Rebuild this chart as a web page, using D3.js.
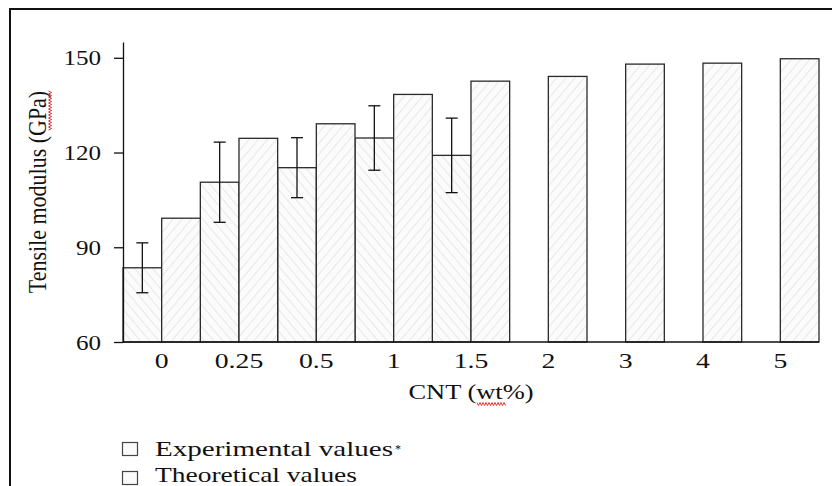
<!DOCTYPE html>
<html>
<head>
<meta charset="utf-8">
<script src="https://cdn.jsdelivr.net/npm/d3@7"></script>
<style>
  body { margin: 0; background: #fff; }
  text { font-family: "Liberation Serif", "Times New Roman", serif; fill: #111; }
</style>
</head>
<body>
<script>
// Tensile modulus vs CNT content: experimental (with error bars) and theoretical bars

const width = 832;
const height = 486;

const categories = ["0", "0.25", "0.5", "1", "1.5", "2", "3", "4", "5"];
const experimental = [83.5, 110.6, 115.2, 124.6, 119.1, null, null, null, null];
const expError = [7.9, 12.7, 9.5, 10.2, 11.8, null, null, null, null];
const theoretical = [99.2, 124.5, 129.1, 138.4, 142.6, 144.1, 148.0, 148.3, 149.7];
const yTicks = [60, 90, 120, 150];
const legendLabels = ["Experimental values", "Theoretical values"];

const margin = { left: 123, right: 13, top: 42, bottom: 144 };

const svg = d3.select("body")
    .append("svg")
    .attr("width", width)
    .attr("height", height);

const defs = svg.append("defs");

// light hatch fills: "\\" for experimental, "//" for theoretical
function hatch(id, angle) {
    const p = defs.append("pattern")
        .attr("id", id)
        .attr("patternUnits", "userSpaceOnUse")
        .attr("width", 7)
        .attr("height", 7)
        .attr("patternTransform", `rotate(${angle})`);
    p.append("rect").attr("width", 7).attr("height", 7).attr("fill", "#fbfbfb");
    p.append("line")
        .attr("x1", 0).attr("y1", 0).attr("x2", 0).attr("y2", 7)
        .attr("stroke", "#dcdcdc")
        .attr("stroke-width", 1.2);
}
hatch("hatchExp", -40);
hatch("hatchTheo", 40);

// outer frame (only top and left edges visible)
svg.append("path")
    .attr("d", `M10,${height} L10,9 L${width},9`)
    .attr("fill", "none")
    .attr("stroke", "#111")
    .attr("stroke-width", 2);

const x = d3.scaleBand()
    .domain(categories)
    .range([margin.left, width - margin.right])
    .padding(0);

const sub = d3.scaleBand()
    .domain(["exp", "theo"])
    .range([0, x.bandwidth()]);

const y = d3.scaleLinear()
    .domain([60, 155])
    .range([height - margin.bottom, margin.top]);

// stretch text horizontally like the reference
function stretch(sel, f) {
    sel.each(function () {
        const len = this.getComputedTextLength();
        d3.select(this).attr("textLength", len * f).attr("lengthAdjust", "spacingAndGlyphs");
    });
}

// bars
const rows = categories.map((c, i) => ({
    cat: c, exp: experimental[i], err: expError[i], theo: theoretical[i]
}));

svg.append("g")
    .selectAll("rect")
    .data(rows.filter(d => d.exp != null))
    .join("rect")
    .attr("x", d => x(d.cat) + sub("exp"))
    .attr("y", d => y(d.exp))
    .attr("width", sub.bandwidth())
    .attr("height", d => y(60) - y(d.exp))
    .attr("fill", "url(#hatchExp)")
    .attr("stroke", "#2a2a2a")
    .attr("stroke-width", 1.3);

svg.append("g")
    .selectAll("rect")
    .data(rows)
    .join("rect")
    .attr("x", d => x(d.cat) + sub("theo"))
    .attr("y", d => y(d.theo))
    .attr("width", sub.bandwidth())
    .attr("height", d => y(60) - y(d.theo))
    .attr("fill", "url(#hatchTheo)")
    .attr("stroke", "#2a2a2a")
    .attr("stroke-width", 1.3);

// error bars
const eb = svg.append("g")
    .selectAll("g")
    .data(rows.filter(d => d.err != null))
    .join("g")
    .attr("stroke", "#111")
    .attr("stroke-width", 1.3);
const cx = d => x(d.cat) + sub("exp") + sub.bandwidth() / 2;
eb.append("line")
    .attr("x1", cx).attr("x2", cx)
    .attr("y1", d => y(d.exp + d.err)).attr("y2", d => y(d.exp - d.err));
eb.append("line")
    .attr("x1", d => cx(d) - 6).attr("x2", d => cx(d) + 6)
    .attr("y1", d => y(d.exp + d.err)).attr("y2", d => y(d.exp + d.err));
eb.append("line")
    .attr("x1", d => cx(d) - 6).attr("x2", d => cx(d) + 6)
    .attr("y1", d => y(d.exp - d.err)).attr("y2", d => y(d.exp - d.err));

// y axis
const yAxis = svg.append("g")
    .attr("transform", `translate(${margin.left},0)`)
    .call(d3.axisLeft(y).tickValues(yTicks).tickSize(9).tickPadding(13).tickSizeOuter(0));
yAxis.select(".domain").attr("stroke", "#111").attr("stroke-width", 1.3);
yAxis.selectAll(".tick line").attr("stroke", "#111").attr("stroke-width", 1.3);
yAxis.selectAll(".tick text")
    .style("font-family", "Liberation Serif, serif")
    .style("font-size", "22px")
    .attr("fill", "#111")
    .call(stretch, 1.14);

// x axis (line only, labels centered on bands)
svg.append("line")
    .attr("x1", margin.left).attr("x2", width - margin.right)
    .attr("y1", y(60)).attr("y2", y(60))
    .attr("stroke", "#111").attr("stroke-width", 1.3);

svg.append("g")
    .selectAll("text")
    .data(categories)
    .join("text")
    .attr("x", d => x(d) + x.bandwidth() / 2)
    .attr("y", 368)
    .attr("text-anchor", "middle")
    .style("font-size", "22px")
    .text(d => d)
    .call(stretch, 1.26);

// axis titles
svg.append("text")
    .attr("x", (margin.left + width - margin.right) / 2)
    .attr("y", 399)
    .attr("text-anchor", "middle")
    .style("font-size", "21px")
    .text("CNT (wt%)")
    .call(stretch, 1.26);

svg.append("text")
    .attr("transform", "translate(46,192) scale(1.15,1) rotate(-90)")
    .attr("text-anchor", "middle")
    .style("font-size", "22px")
    .text("Tensile modulus (GPa)");

// spell-check squiggles seen in the reference
function squiggle(x0, y0, len, vertical) {
    const pts = d3.range(0, len + 0.1, 1.5).map((t, i) => {
        const o = (i % 2 ? 1.5 : -1.5);
        return vertical ? [x0 + o, y0 - t] : [x0 + t, y0 + o];
    });
    svg.append("path")
        .attr("d", d3.line()(pts))
        .attr("fill", "none")
        .attr("stroke", "#e02020")
        .attr("stroke-width", 0.9);
}
squiggle(50, 130, 40, true);
squiggle(477, 404, 29, false);

// legend
const legend = svg.append("g");
legendLabels.forEach((label, i) => {
    const ly = 442 + i * 29;
    legend.append("rect")
        .attr("x", 122.5).attr("y", ly + 0.5)
        .attr("width", 15).attr("height", 13)
        .attr("fill", "#fafafa")
        .attr("stroke", "#444")
        .attr("stroke-width", 1.2);
    legend.append("text")
        .attr("x", 155)
        .attr("y", 456 + i * 26)
        .style("font-size", "21px")
        .text(label)
        .attr("textLength", i === 0 ? 238 : 202)
        .attr("lengthAdjust", "spacingAndGlyphs");
});
legend.append("text")
    .attr("x", 395)
    .attr("y", 453)
    .style("font-size", "12px")
    .text("*");
</script>
</body>
</html>
